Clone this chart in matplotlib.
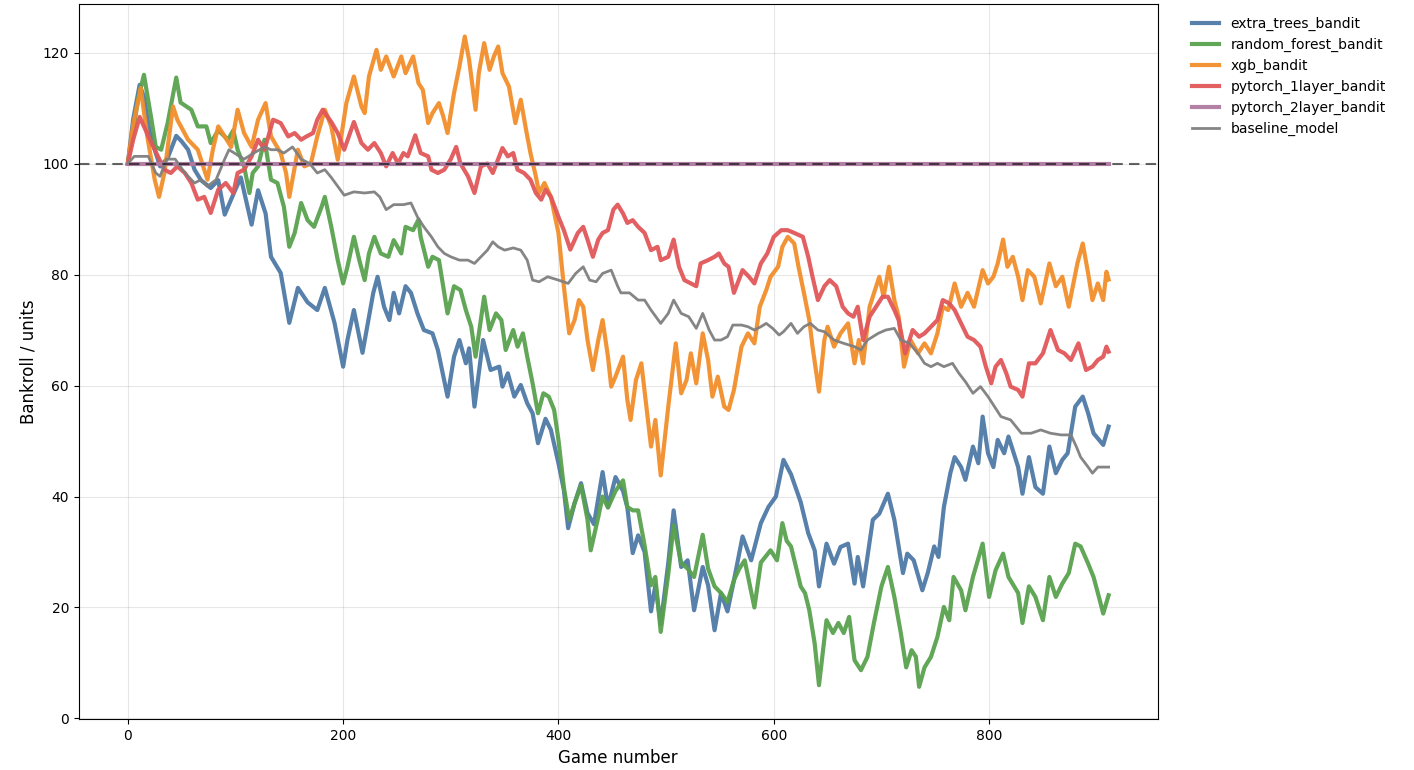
import matplotlib
matplotlib.use("Agg")
import matplotlib.pyplot as plt

# Bankroll after each game, sampled at the turning points of each run
et_games = [0, 5, 11, 15, 20, 25, 30, 37, 45, 50, 56, 62, 68, 77, 84, 90, 99, 105, 115, 121,
            128, 133, 142, 150, 158, 167, 176, 183, 192, 200, 204, 210, 218, 228, 232, 238, 243,
            247, 252, 258, 263, 269, 275, 283, 288, 297, 303, 308, 314, 317, 322, 330, 337, 345,
            348, 353, 359, 365, 371, 376, 381, 388, 393, 400, 405, 409, 415, 421, 427, 433, 441,
            446, 453, 460, 464, 469, 474, 480, 486, 490, 495, 502, 507, 514, 520, 526, 534, 539,
            545, 551, 557, 563, 571, 579, 588, 595, 602, 609, 616, 625, 632, 638, 642, 649, 656,
            662, 669, 675, 678, 683, 692, 698, 706, 712, 720, 724, 730, 738, 743, 749, 753, 758,
            764, 768, 774, 778, 785, 790, 794, 799, 804, 808, 814, 818, 827, 831, 837, 843, 850,
            856, 862, 868, 873, 880, 887, 892, 897, 906, 911]
et_bankroll = [100, 108, 114.2, 112, 106, 102.5, 99.5, 101, 105, 104, 102.5, 98.9, 97, 95.6, 97,
               90.8, 94.9, 97.5, 89, 95.2, 91, 83.2, 80.3, 71.3, 77.6, 75, 73.6, 77.6, 71.3, 63.4,
               68.2, 73.6, 65.9, 76.7, 79.6, 74.2, 71.8, 76.7, 73, 77.9, 76.7, 73, 70, 69.4, 66.4,
               58, 65.2, 68.2, 64, 66.7, 56.2, 68.2, 62.8, 63.4, 59.8, 62.2, 58, 60.1, 56.8, 55,
               49.6, 54, 52, 46, 41.2, 34.3, 38.8, 42.4, 37, 35, 44.4, 38.1, 43.5, 41, 38, 29.8, 33,
               30, 19.3, 24, 17, 28, 37.5, 27.3, 28.5, 19.5, 27.3, 24, 15.9, 22.6, 19.3, 24.9, 32.8,
               28.5, 35.2, 38.1, 40, 46.6, 44, 39, 33.4, 30.3, 23.8, 31.5, 27.9, 30.9, 31.5, 24.3,
               29.1, 23.8, 35.8, 36.9, 40.5, 35.8, 26.2, 29.7, 28.5, 23.1, 26.2, 31, 29.1, 38.1,
               44.2, 47.1, 45.3, 43, 49, 46, 54.4, 47.8, 45.3, 50.2, 47.8, 50.8, 45.3, 40.5, 47.1,
               41.7, 40.5, 49, 44.2, 46.6, 47.8, 56.2, 58, 55, 51.4, 49.3, 52.6]

rf_games = [0, 5, 10, 15, 22, 26, 31, 37, 45, 49, 59, 65, 73, 77, 84, 93, 98, 102, 108, 113, 116,
            121, 127, 133, 139, 145, 150, 155, 161, 167, 173, 180, 183, 189, 195, 200, 204, 210,
            215, 220, 224, 229, 235, 242, 247, 254, 258, 265, 270, 272, 279, 283, 289, 297, 303,
            309, 314, 319, 323, 331, 336, 342, 347, 351, 358, 362, 367, 371, 376, 381, 386, 391,
            396, 400, 405, 410, 415, 421, 427, 430, 437, 441, 446, 453, 460, 464, 469, 474, 480,
            486, 490, 495, 502, 507, 514, 520, 526, 534, 539, 545, 551, 557, 563, 568, 573, 582,
            588, 597, 603, 608, 612, 616, 625, 629, 633, 638, 642, 649, 655, 660, 665, 670, 675,
            681, 687, 693, 700, 706, 712, 718, 723, 728, 732, 735, 740, 746, 752, 758, 763, 767,
            774, 778, 785, 794, 800, 806, 813, 818, 827, 831, 837, 843, 850, 856, 862, 868, 874,
            880, 885, 892, 897, 902, 906, 911]
rf_bankroll = [100, 106, 112, 116, 107.9, 103, 102.5, 107.3, 115.5, 111, 109.7, 106.7, 106.7,
               103.7, 106, 104.3, 106, 102.5, 99.5, 94.7, 98.3, 99.5, 104.3, 97.1, 96.5, 92.2, 85,
               87.5, 92.9, 89.8, 88.6, 92.2, 94, 88.6, 82.6, 78.4, 81.4, 86.8, 82.6, 79, 83.8, 86.8,
               83.8, 83.2, 86.2, 83.8, 88.6, 88, 89.9, 86.8, 81.4, 83.2, 82.6, 73, 77.9, 77.2, 73.6,
               70.6, 65.2, 76, 70, 73, 71.8, 66.4, 70, 67, 69.4, 65.2, 60.4, 55, 58.6, 58, 55.6,
               50.2, 41.7, 35.8, 38.8, 42, 35.8, 30.3, 36.3, 40, 38, 41, 42.9, 38.1, 37.5, 37.5,
               31.2, 24, 25.5, 15.6, 26, 34.8, 28, 27, 25.5, 33.1, 27, 23.8, 22.6, 21, 24.9, 27,
               28.5, 20, 28.1, 30.3, 28.5, 35.2, 32, 31, 23.8, 22.6, 19.5, 13.5, 6, 17.7, 15.4,
               17.2, 15.4, 18.3, 10.5, 8.7, 11.1, 17.2, 23.8, 27.3, 21.9, 15.4, 9.2, 12.3, 11.1,
               5.7, 9.2, 11.1, 14.7, 20.1, 17.7, 25.5, 23.1, 19.5, 25.5, 31.5, 21.9, 26.7, 29.7,
               25.5, 22.6, 17.2, 23.8, 21.9, 17.7, 25.5, 21.9, 24.3, 26.2, 31.5, 31, 27.9, 25.5,
               21.9, 18.9, 22.2]

xgb_games = [0, 5, 12, 18, 25, 29, 34, 42, 46, 56, 65, 74, 79, 84, 90, 96, 102, 108, 115, 121,
             128, 133, 142, 147, 150, 158, 164, 170, 176, 183, 189, 195, 203, 210, 217, 220, 224,
             231, 235, 240, 247, 254, 258, 265, 270, 274, 279, 283, 289, 293, 297, 303, 308, 313,
             317, 323, 326, 331, 336, 340, 344, 348, 354, 360, 365, 370, 374, 379, 382, 387, 393,
             400, 405, 410, 415, 419, 423, 427, 432, 437, 441, 446, 449, 453, 460, 464, 467, 472,
             477, 481, 486, 490, 495, 502, 509, 514, 519, 523, 528, 534, 539, 543, 548, 554, 558,
             563, 570, 576, 582, 587, 593, 597, 604, 608, 613, 619, 623, 628, 633, 636, 642, 647,
             650, 656, 662, 669, 675, 679, 683, 689, 698, 702, 707, 712, 716, 721, 727, 734, 740,
             746, 752, 757, 762, 768, 774, 780, 786, 794, 799, 804, 808, 813, 817, 822, 827, 831,
             836, 842, 848, 856, 862, 868, 874, 882, 887, 892, 896, 901, 906, 909, 911]
xgb_bankroll = [100, 107, 113.6, 105, 97.1, 94, 98.3, 110.3, 107.9, 104.3, 102.5, 97.1, 102.5,
                106.7, 104.9, 103, 109.7, 105.5, 103, 107.9, 110.9, 104.9, 101.9, 98.3, 94, 102.5,
                99.5, 100, 104.9, 109.7, 106.7, 100.7, 110.9, 115.7, 110.3, 109.1, 115.7, 120.5,
                116.9, 119.3, 115.7, 119.3, 116.3, 119.3, 114.5, 113.3, 107.3, 109.1, 110.9, 108.5,
                105.5, 112.7, 117.5, 122.9, 118.7, 109.7, 116.3, 121.7, 116.9, 119.3, 121.1, 116.3,
                113.9, 107.3, 111.5, 106, 101.9, 97.7, 94.7, 96.5, 94, 87.5, 77.9, 69.4, 71.8,
                75.4, 74.2, 68.2, 62.8, 68.2, 71.8, 65.2, 59.8, 61.6, 65.2, 57.4, 53.8, 61, 64,
                57.4, 49, 53.8, 43.8, 56.2, 67.6, 58.6, 61, 65.8, 60.4, 69.4, 64.6, 58, 61.6, 56.2,
                55.6, 59.2, 67, 69.4, 67.6, 74.2, 77.2, 79.6, 81.4, 85, 86.8, 85.6, 81.4, 76.7,
                71.8, 67, 58.9, 68.2, 70.6, 67, 69.4, 71.2, 64, 68.2, 64, 74.2, 79.6, 76, 81.4,
                75.4, 72.4, 63.4, 68.2, 65.8, 67.6, 65.8, 69.4, 74.2, 73.6, 78.4, 74.2, 76.7, 74.2,
                80.8, 78.4, 79.6, 82, 86.3, 81.4, 83.2, 79.6, 75.4, 80.8, 79.6, 74.8, 82, 77.9,
                79.6, 74.2, 82, 85.6, 80.2, 75.4, 78.4, 75.4, 80.5, 79.1]

pt1_games = [0, 5, 11, 15, 22, 28, 34, 40, 46, 53, 59, 65, 71, 77, 84, 91, 98, 102, 108, 115,
             121, 127, 135, 142, 149, 155, 161, 166, 172, 176, 181, 189, 195, 201, 210, 217, 223,
             229, 235, 240, 246, 251, 256, 260, 267, 272, 279, 282, 288, 294, 300, 305, 309, 316,
             322, 328, 334, 339, 344, 348, 353, 358, 362, 368, 374, 379, 384, 388, 393, 400, 405,
             411, 418, 423, 427, 432, 437, 441, 446, 451, 455, 460, 464, 469, 474, 480, 486, 492,
             495, 502, 507, 512, 517, 523, 528, 532, 539, 545, 549, 554, 558, 563, 571, 577, 582,
             588, 594, 600, 607, 613, 619, 627, 632, 636, 641, 647, 652, 658, 664, 669, 674, 678,
             683, 689, 695, 701, 706, 712, 716, 722, 729, 735, 740, 746, 752, 757, 763, 768, 774,
             780, 786, 792, 797, 802, 806, 811, 816, 820, 827, 831, 837, 843, 850, 857, 864, 870,
             876, 883, 890, 896, 901, 906, 909, 911]
pt1_bankroll = [100, 104.3, 108.4, 106.7, 103.7, 101.3, 98.9, 98.3, 99.5, 98.3, 96.5, 93.5, 94,
                91.1, 95.3, 96.5, 94.7, 98.3, 98.9, 101.3, 104.3, 102.5, 107.9, 107.3, 104.9,
                105.5, 104.3, 104.9, 105.5, 107.9, 109.7, 107.5, 105.5, 102.5, 107.5, 103.7, 102.5,
                103.7, 101.9, 99.5, 101.9, 100, 101.9, 101.3, 105.1, 101.9, 101.3, 98.9, 98.3,
                98.9, 100.8, 103, 100, 97.7, 94.7, 99.5, 100, 98.3, 100.8, 102.8, 101.3, 101.9,
                98.9, 98.3, 97.1, 94.7, 93.5, 95.3, 94, 90.4, 88, 84.5, 87.5, 88.6, 86.3, 83.2,
                86.3, 87.5, 88, 91.7, 92.6, 91, 89.3, 89.8, 88.6, 87.5, 84.4, 85, 82.6, 83.2, 86.3,
                81.4, 79, 78.4, 77.9, 82, 82.6, 83.2, 83.8, 82, 81.4, 76.7, 80.8, 79.6, 78.4, 82,
                83.8, 86.8, 88, 88, 87.5, 86.8, 83.2, 79.6, 75.4, 77.9, 79, 77.9, 74.2, 73, 72.4,
                74.2, 68.2, 72.4, 74.2, 76, 76, 73.6, 71.8, 65.8, 70, 68.8, 69.4, 70.6, 71.8, 75.4,
                74.8, 73.6, 71.2, 68.8, 68.2, 67, 63.4, 60.4, 63.4, 64.6, 62.2, 59.8, 59.2, 58, 64,
                64, 65.8, 70, 66.4, 65.8, 64.6, 67.6, 62.8, 63.4, 64.6, 65.2, 67, 66.1]

pt2_games = [0, 911]
pt2_bankroll = [100, 100]

base_games = [0, 6, 19, 26, 30, 36, 44, 53, 62, 68, 74, 82, 90, 94, 99, 108, 117, 127, 133, 139,
              145, 153, 161, 169, 176, 183, 189, 195, 201, 210, 220, 229, 234, 240, 247, 256, 263,
              269, 275, 282, 288, 294, 300, 308, 316, 322, 328, 334, 339, 344, 350, 358, 365, 371,
              376, 382, 390, 400, 409, 416, 423, 429, 435, 441, 449, 455, 458, 466, 474, 480, 486,
              495, 502, 507, 514, 521, 528, 534, 540, 545, 551, 557, 562, 570, 576, 582, 588, 593,
              599, 605, 609, 616, 622, 628, 634, 641, 647, 656, 665, 675, 681, 687, 697, 704, 712,
              718, 726, 734, 740, 746, 752, 758, 766, 772, 778, 785, 792, 799, 805, 811, 820, 830,
              839, 848, 857, 867, 876, 881, 885, 892, 896, 901, 907, 911]
base_bankroll = [100, 101.3, 101.3, 98.3, 97.7, 100.8, 100.8, 98.3, 96.5, 97.1, 95.9, 97.1, 100.8,
                 102.5, 101.9, 100.8, 101.9, 103, 102.5, 102.5, 101.9, 103, 100.8, 100, 98.3, 98.9,
                 97.5, 95.9, 94.3, 94.9, 94.7, 94.9, 94, 91.7, 92.6, 92.6, 92.9, 90.4, 88.6, 86.8,
                 85, 83.8, 83.2, 82.6, 82.6, 82, 83.2, 84.4, 85.9, 85, 84.4, 84.8, 84.4, 82.6, 79,
                 78.7, 79.6, 79, 78.4, 80.2, 81.4, 79, 78.7, 80.2, 80.8, 77.9, 76.7, 76.7, 75.4,
                 75.4, 73.6, 71.2, 73, 75.4, 73, 72.4, 70.3, 73, 70, 68.2, 68.2, 68.8, 70.9, 70.9,
                 70.6, 70, 70.6, 71.2, 70.3, 69.1, 69.7, 71.2, 69.4, 70.6, 71.2, 70, 69.7, 68.2,
                 67.6, 67, 66.4, 68.2, 69.4, 70, 70.3, 68.2, 67.6, 65.8, 64, 63.4, 64, 63.4, 64,
                 62.2, 60.7, 58.6, 59.8, 58, 56.2, 54.4, 53.8, 51.4, 51.4, 52, 51.4, 51.1, 51.1, 49,
                 47.1, 45.3, 44.2, 45.3, 45.3, 45.3]

series = [
    ("extra_trees_bandit", et_games, et_bankroll, "#4e79a7", 3.0),
    ("random_forest_bandit", rf_games, rf_bankroll, "#59a14f", 3.0),
    ("xgb_bandit", xgb_games, xgb_bankroll, "#f28e2b", 3.0),
    ("pytorch_1layer_bandit", pt1_games, pt1_bankroll, "#e15759", 3.0),
    ("pytorch_2layer_bandit", pt2_games, pt2_bankroll, "#b07aa1", 3.0),
    ("baseline_model", base_games, base_bankroll, "#7f7f7f", 2.0),
]
START_BANKROLL = 100

fig = plt.figure(figsize=(14.14, 7.70), dpi=100)
ax = fig.add_axes([0.0557, 0.0658, 0.763, 0.929])

for name, games, bank, color, lw in series:
    ax.plot(games, bank, color=color, linewidth=lw, alpha=0.95, label=name)

ax.axhline(START_BANKROLL, color="black", linestyle=(0, (5, 3)), linewidth=1.5, alpha=0.6)

ax.set_xlabel("Game number", fontsize=12)
ax.set_ylabel("Bankroll / units", fontsize=12)
ax.grid(True, alpha=0.3)
ax.legend(loc="upper left", bbox_to_anchor=(1.02, 1.0), frameon=False, fontsize=10)

fig.savefig("out.png", dpi=100)
